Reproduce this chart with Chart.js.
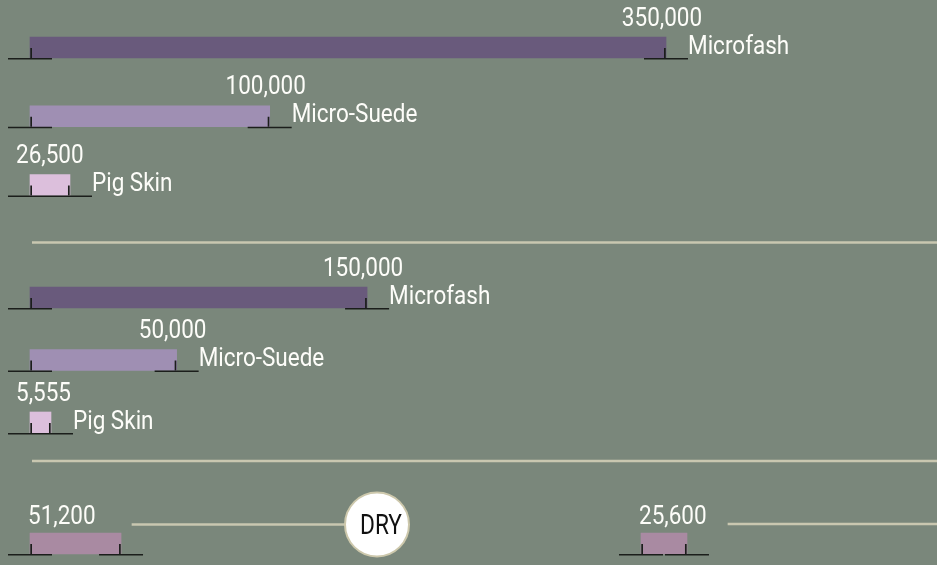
<!DOCTYPE html>
<html>
<head>
<meta charset="utf-8">
<script src="https://cdn.jsdelivr.net/npm/chart.js@4.4.1/dist/chart.umd.min.js"></script>
<style>
  html, body { margin: 0; padding: 0; background: #7a877b; }
  #wrap { position: relative; width: 937px; height: 565px; background: #7a877b; overflow: hidden; }
  canvas { position: absolute; left: 0; }
</style>
</head>
<body>
<div id="wrap">
  <canvas id="cA" width="937" height="236" style="top:0px"></canvas>
  <canvas id="cB" width="937" height="220" style="top:236px"></canvas>
  <canvas id="cC" width="937" height="109" style="top:456px"></canvas>
</div>
<script>
// ---------- data ----------
const categories = ['Microfash', 'Micro-Suede', 'Pig Skin'];
// printed values
const topValues = [350000, 100000, 26500];
const middleValues = [150000, 50000, 5555];
const dryValues = [51200, 25600];
const dryLabel = 'DRY';
const topBarLengths = [350000, 131900, 22000];
const middleBarLengths = [185500, 80700, 11550];
const dryBarLengths = [50100, 25300];

// ---------- style ----------
const BG = '#7a877b';
const BAR_COLORS = ['#695a7c', '#9f8fb3', '#dcbfdc'];
const DRY_COLOR = '#a98aa2';
const RULE_COLOR = '#c9c7b0';
const TICK_COLOR = '#1b1e1b';
const TEXT_COLOR = '#fdfdf9';
const FONT = '25px Roboto';
const SX = 0.9;
const AXIS_MAX = 350000;

function drawText(ctx, text, x, y, font, color, sx) {
  ctx.save();
  ctx.font = font;
  ctx.fillStyle = color;
  ctx.textAlign = 'left';
  ctx.textBaseline = 'alphabetic';
  ctx.translate(x, y);
  ctx.scale(sx, 1);
  ctx.fillText(text, 0, 0);
  ctx.restore();
}
function textWidth(ctx, text, font, sx) {
  ctx.save();
  ctx.font = font;
  const w = ctx.measureText(text).width * sx;
  ctx.restore();
  return w;
}
function drawMarks(ctx, base, end, bottom) {
  ctx.save();
  ctx.strokeStyle = TICK_COLOR;
  ctx.lineWidth = 1.5;
  ctx.beginPath();
  ctx.moveTo(base - 22, bottom + 0.75); ctx.lineTo(base + 22, bottom + 0.75);
  ctx.moveTo(end - 22, bottom + 0.75); ctx.lineTo(end + 22, bottom + 0.75);
  ctx.stroke();
  ctx.fillStyle = TICK_COLOR;
  ctx.fillRect(base + 0.3, bottom - 10, 1.7, 10);
  ctx.fillRect(end - 2, bottom - 10, 1.7, 10);
  ctx.restore();
}
function rule(ctx, x1, x2, y, w) {
  ctx.save();
  ctx.strokeStyle = RULE_COLOR;
  ctx.lineWidth = w;
  ctx.beginPath();
  ctx.moveTo(x1, y); ctx.lineTo(x2, y);
  ctx.stroke();
  ctx.restore();
}

const decoPlugin = {
  id: 'deco',
  beforeDraw(chart) {
    const ctx = chart.ctx;
    ctx.save();
    ctx.fillStyle = BG;
    ctx.fillRect(0, 0, chart.width, chart.height);
    ctx.restore();
    const o = chart.options.plugins.deco;
    if (o.ruleY !== undefined) rule(ctx, 32, chart.width, o.ruleY, 2.5);
  },
  afterDatasetsDraw(chart) {
    const ctx = chart.ctx;
    const o = chart.options.plugins.deco;
    if (o.mode === 'group') {
      const meta = chart.getDatasetMeta(0);
      meta.data.forEach((bar, i) => {
        const p = bar.getProps(['x', 'y', 'base', 'height'], true);
        const top = p.y - p.height / 2, bottom = p.y + p.height / 2;
        drawMarks(ctx, p.base, p.x, bottom);
        drawText(ctx, o.categories[i], p.x + 22, bottom - 4.5, FONT, TEXT_COLOR, SX);
        const label = o.values[i].toLocaleString('en-US');
        const w = textWidth(ctx, label, FONT, SX);
        const len = p.x - p.base;
        const left = (w > len) ? p.base - 14 : p.x - 4 - w / 2;
        drawText(ctx, label, left, top - 11.5, FONT, TEXT_COLOR, SX);
      });
    } else {
      const labelRights = [];
      chart.data.datasets.forEach((ds, di) => {
        const bar = chart.getDatasetMeta(di).data[0];
        const p = bar.getProps(['x', 'y', 'base', 'height'], true);
        const top = p.y - p.height / 2, bottom = p.y + p.height / 2;
        drawMarks(ctx, p.base, p.x, bottom);
        const label = o.values[di].toLocaleString('en-US');
        const w = textWidth(ctx, label, FONT, SX);
        drawText(ctx, label, p.base - 2, top - 9, FONT, TEXT_COLOR, SX);
        labelRights.push(p.base - 2 + w);
      });
      // connector lines and DRY badge
      const cy = 68.5, cx = 377, r = 32;
      rule(ctx, labelRights[0] + 36, cx - r, cy, 2.5);
      rule(ctx, labelRights[1] + 21, chart.width, cy - 0.5, 2.5);
      ctx.save();
      ctx.beginPath();
      ctx.arc(cx, cy, r, 0, Math.PI * 2);
      ctx.fillStyle = '#ffffff';
      ctx.fill();
      ctx.lineWidth = 2;
      ctx.strokeStyle = '#cdc8ac';
      ctx.stroke();
      ctx.restore();
      const dfont = '27px Roboto';
      const dw = textWidth(ctx, o.badge, dfont, 0.84);
      drawText(ctx, o.badge, cx + 4 - dw / 2, cy + 9.5, dfont, '#111111', 0.84);
    }
  }
};

function baseOptions(padding, deco, extraScales, offset) {
  const scales = {
    x: { type: 'linear', display: false, min: 0, max: AXIS_MAX },
    y: { type: 'category', display: false, offset: offset }
  };
  Object.assign(scales, extraScales || {});
  return {
    indexAxis: 'y',
    responsive: false,
    animation: false,
    devicePixelRatio: 1,
    layout: { padding: padding },
    scales: scales,
    plugins: { legend: { display: false }, tooltip: { enabled: false }, deco: deco }
  };
}

// Chart A: first group
new Chart(document.getElementById('cA'), {
  type: 'bar',
  data: {
    labels: categories,
    datasets: [{ data: topBarLengths, backgroundColor: BAR_COLORS, barThickness: 21, clip: false }]
  },
  options: baseOptions({ left: 30, right: 271, top: 47.5, bottom: 51 },
    { mode: 'group', categories: categories, values: topValues }, null, false),
  plugins: [decoPlugin]
});

// Chart B: second group
new Chart(document.getElementById('cB'), {
  type: 'bar',
  data: {
    labels: categories,
    datasets: [{ data: middleBarLengths, backgroundColor: BAR_COLORS, barThickness: 21, clip: false }]
  },
  options: baseOptions({ left: 30, right: 271, top: 61.5, bottom: 33.5 },
    { mode: 'group', categories: categories, values: middleValues, ruleY: 6.5 }, null, false),
  plugins: [decoPlugin]
});

// Chart C: DRY comparison (two panels, second panel on its own axis)
const rightPanelShift = 336242;
new Chart(document.getElementById('cC'), {
  type: 'bar',
  data: {
    labels: [dryLabel],
    datasets: [
      { data: [dryBarLengths[0]], backgroundColor: DRY_COLOR, barThickness: 21, grouped: false, clip: false },
      { data: [dryBarLengths[1]], backgroundColor: DRY_COLOR, barThickness: 21, grouped: false, clip: false, xAxisID: 'x2' }
    ]
  },
  options: baseOptions({ left: 30, right: 271, top: 77, bottom: 11 },
    { mode: 'dry', values: dryValues, badge: dryLabel, ruleY: 5 },
    { x2: { type: 'linear', display: false, min: -rightPanelShift, max: AXIS_MAX - rightPanelShift } }, true),
  plugins: [decoPlugin]
});
</script>
</body>
</html>
